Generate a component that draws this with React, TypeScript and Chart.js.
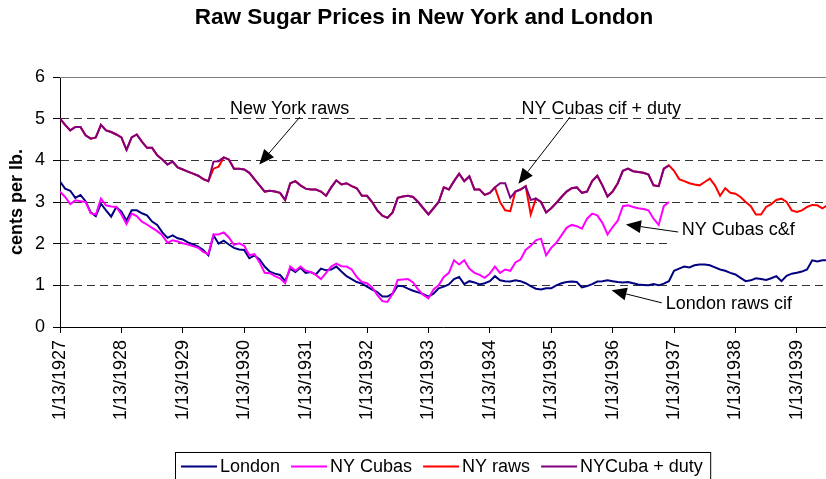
import React, { useEffect, useRef } from "react";
import { Chart, registerables } from "chart.js";

Chart.register(...registerables);

// Monthly readings, month 0 = 1/13/1927
const tickLabels = [
  "1/13/1927", "1/13/1928", "1/13/1929", "1/13/1930", "1/13/1931", "1/13/1932", "1/13/1933",
  "1/13/1934", "1/13/1935", "1/13/1936", "1/13/1937", "1/13/1938", "1/13/1939",
];

const seriesNames = ["London", "NY Cubas", "NY raws", "NYCuba + duty"];

const london = [
  3.49, 3.32, 3.27, 3.1, 3.17, 3.02, 2.75, 2.66, 2.96, 2.8, 2.65, 2.88,
  2.77, 2.55, 2.8, 2.8, 2.73, 2.68, 2.53, 2.45, 2.27, 2.14, 2.2, 2.13,
  2.1, 2.03, 1.98, 1.93, 1.85, 1.72, 2.2, 2.0, 2.07, 1.98, 1.9, 1.86,
  1.85, 1.65, 1.72, 1.62, 1.45, 1.33, 1.28, 1.25, 1.1, 1.4, 1.32, 1.42,
  1.3, 1.32, 1.26, 1.4, 1.36, 1.38, 1.45, 1.33, 1.22, 1.15, 1.08, 1.04,
  0.97, 0.9, 0.84, 0.73, 0.73, 0.8, 0.99, 0.98, 0.92, 0.87, 0.83, 0.79,
  0.73, 0.8, 0.93, 0.97, 1.02, 1.15, 1.2, 1.03, 1.1, 1.07, 1.02, 1.05,
  1.1, 1.22, 1.12, 1.1, 1.09, 1.12, 1.1, 1.05, 0.98, 0.92, 0.9, 0.93,
  0.93, 1.0, 1.05, 1.08, 1.09, 1.08, 0.95, 0.98, 1.03, 1.09, 1.1, 1.12,
  1.1, 1.08, 1.07, 1.08, 1.05, 1.02, 1.01, 1.0, 1.03, 1.0, 1.04, 1.1,
  1.35, 1.4, 1.45, 1.43, 1.48, 1.5, 1.5, 1.48, 1.43, 1.38, 1.35, 1.3,
  1.26, 1.18, 1.1, 1.12, 1.17, 1.15, 1.13, 1.17, 1.22, 1.1, 1.23, 1.28,
  1.3, 1.33, 1.38, 1.6, 1.57, 1.6, 1.6,
];

const nyCubas = [
  3.25, 3.12, 2.95, 3.04, 3.02, 3.0, 2.73, 2.7, 3.08, 2.92, 2.89, 2.88,
  2.7, 2.47, 2.72, 2.66, 2.53, 2.46, 2.38, 2.3, 2.2, 2.02, 2.08, 2.05,
  2.01, 1.98, 1.94, 1.9, 1.8, 1.75, 2.22, 2.22, 2.27, 2.15, 1.97, 2.01,
  1.95, 1.72, 1.75, 1.55, 1.3, 1.29, 1.22, 1.17, 1.05, 1.45, 1.35, 1.45,
  1.35, 1.32, 1.25, 1.15, 1.3, 1.45, 1.52, 1.46, 1.45, 1.38, 1.2, 1.08,
  1.05, 0.95, 0.77, 0.62, 0.6, 0.8, 1.13, 1.14, 1.15, 1.07, 0.9, 0.77,
  0.69, 0.9, 1.0, 1.2, 1.3, 1.6, 1.5, 1.6, 1.4, 1.3, 1.25, 1.18,
  1.28, 1.45, 1.3, 1.38, 1.35, 1.55, 1.62, 1.85, 1.95, 2.08, 2.12, 1.72,
  1.9, 2.02, 2.2, 2.38, 2.45, 2.42, 2.36, 2.6, 2.72, 2.68, 2.5, 2.22,
  2.4, 2.55, 2.9, 2.92, 2.88, 2.85, 2.83, 2.8, 2.6, 2.45, 2.9, 3.0,
];

const nyRaws = [
  5.0, 4.85, 4.72, 4.8, 4.8, 4.6, 4.52, 4.55, 4.85, 4.72, 4.68, 4.62,
  4.55, 4.25, 4.55, 4.62, 4.45, 4.3, 4.3, 4.12, 4.02, 3.9, 3.97, 3.83,
  3.78, 3.73, 3.68, 3.63, 3.55, 3.5, 3.8, 3.85, 4.07, 4.02, 3.8, 3.8,
  3.78, 3.7, 3.55, 3.4, 3.25, 3.27, 3.25, 3.22, 3.05, 3.45, 3.5, 3.4,
  3.32, 3.3, 3.3, 3.25, 3.15, 3.35, 3.52, 3.42, 3.45, 3.38, 3.33, 3.15,
  3.15, 3.0, 2.8, 2.67, 2.62, 2.75, 3.1, 3.13, 3.15, 3.12, 3.0, 2.85,
  2.7, 2.85, 3.0, 3.35, 3.3, 3.5, 3.68, 3.5, 3.62, 3.3, 3.3, 3.17,
  3.22, 3.35, 3.0, 2.8, 2.78, 3.25, 3.3, 3.38, 2.7, 3.08, 3.0, 2.75,
  2.85, 2.98, 3.12, 3.25, 3.33, 3.35, 3.22, 3.25, 3.5, 3.63, 3.4, 3.13,
  3.25, 3.45, 3.75, 3.8, 3.74, 3.72, 3.7, 3.66, 3.4, 3.38, 3.8, 3.88,
  3.75, 3.55, 3.5, 3.45, 3.42, 3.4, 3.48, 3.56, 3.4, 3.15, 3.33, 3.22,
  3.2, 3.12, 3.0, 2.9, 2.7, 2.7, 2.88, 2.95, 3.05, 3.08, 3.0, 2.8,
  2.76, 2.8, 2.88, 2.93, 2.92, 2.85, 2.92,
];

const nyCubaDuty = [
  5.0, 4.85, 4.72, 4.8, 4.8, 4.6, 4.52, 4.55, 4.85, 4.72, 4.68, 4.62,
  4.55, 4.25, 4.55, 4.62, 4.45, 4.3, 4.3, 4.12, 4.02, 3.9, 3.97, 3.83,
  3.78, 3.73, 3.68, 3.63, 3.55, 3.5, 3.97, 3.98, 4.07, 4.02, 3.8, 3.8,
  3.78, 3.7, 3.55, 3.4, 3.25, 3.27, 3.25, 3.22, 3.05, 3.45, 3.5, 3.4,
  3.32, 3.3, 3.3, 3.25, 3.15, 3.35, 3.52, 3.42, 3.45, 3.38, 3.33, 3.15,
  3.15, 3.0, 2.8, 2.67, 2.62, 2.75, 3.1, 3.13, 3.15, 3.12, 3.0, 2.85,
  2.7, 2.85, 3.0, 3.35, 3.3, 3.5, 3.68, 3.5, 3.62, 3.3, 3.3, 3.17,
  3.22, 3.35, 3.45, 3.45, 3.1, 3.25, 3.3, 3.38, 3.05, 3.08, 3.0, 2.75,
  2.85, 2.98, 3.12, 3.25, 3.33, 3.35, 3.22, 3.25, 3.5, 3.63, 3.4, 3.13,
  3.25, 3.45, 3.75, 3.8, 3.74, 3.72, 3.7, 3.66, 3.4, 3.38, 3.8, 3.88,
];

const seriesColors = ["#000080", "#FF00FF", "#FF0000", "#800080"];

// Callouts in data units: [month, cents]
const callouts = [
  { text: "New York raws", at: [33.2, 5.24], from: [46.9, 5.04], to: [38.95, 3.9] },
  { text: "NY Cubas cif + duty", at: [90.2, 5.24], from: [99.7, 5.04], to: [89.6, 3.44] },
  { text: "NY Cubas c&f", at: [121.5, 2.32], from: [120.8, 2.28], to: [110.6, 2.46] },
  { text: "London raws cif", at: [118.4, 0.56], from: [117.6, 0.58], to: [107.8, 0.88] },
];

const TITLE = "Raw Sugar Prices in New York and London";
const FONT = "'Liberation Sans', Arial, Helvetica, sans-serif";

export default function App() {
  const ref = useRef<HTMLCanvasElement>(null);

  useEffect(() => {
    const canvas = ref.current;
    if (!canvas) return;
    const toPts = (arr: number[]) => arr.map((y, i) => ({ x: i, y }));
    const all = [london, nyCubas, nyRaws, nyCubaDuty];
    const datasets = all.map((arr, i) => ({
      label: seriesNames[i],
      data: toPts(arr),
      borderColor: seriesColors[i],
      backgroundColor: seriesColors[i],
      borderWidth: 2,
      pointRadius: 0,
      tension: 0,
      fill: false,
      order: 4 - i,
    }));

    const drawArrow = (ctx: CanvasRenderingContext2D, x1: number, y1: number, x2: number, y2: number) => {
      const ang = Math.atan2(y2 - y1, x2 - x1);
      const len = 15;
      const hw = 6.5;
      const bx = x2 - len * Math.cos(ang);
      const by = y2 - len * Math.sin(ang);
      ctx.beginPath();
      ctx.moveTo(x1, y1);
      ctx.lineTo(bx, by);
      ctx.strokeStyle = "#000";
      ctx.lineWidth = 1;
      ctx.stroke();
      ctx.beginPath();
      ctx.moveTo(x2, y2);
      ctx.lineTo(bx + hw * Math.sin(ang), by - hw * Math.cos(ang));
      ctx.lineTo(bx - hw * Math.sin(ang), by + hw * Math.cos(ang));
      ctx.closePath();
      ctx.fillStyle = "#000";
      ctx.fill();
    };

    const decor = {
      id: "decor",
      beforeDatasetsDraw(chart: any) {
        const { ctx, chartArea, scales } = chart;
        ctx.save();
        const ty = Math.round(chartArea.top) + 0.5;
        ctx.strokeStyle = "#808080";
        ctx.lineWidth = 1;
        ctx.beginPath();
        ctx.moveTo(chartArea.left, ty);
        ctx.lineTo(chartArea.right, ty);
        ctx.stroke();
        const x0 = scales.x.getPixelForValue(119.6);
        const yTop = scales.y.getPixelForValue(2.55);
        const yBot = scales.y.getPixelForValue(1.84);
        ctx.fillStyle = "#fff";
        ctx.fillRect(x0, yTop, chartArea.right - x0, yBot - yTop);
        ctx.restore();
      },
      afterDatasetsDraw(chart: any) {
        const { ctx, scales } = chart;
        ctx.save();
        ctx.font = `18px ${FONT}`;
        ctx.textBaseline = "middle";
        ctx.textAlign = "left";
        ctx.fillStyle = "#000";
        for (const c of callouts) {
          const tx = scales.x.getPixelForValue(c.at[0]);
          const ty = scales.y.getPixelForValue(c.at[1]);
          ctx.fillText(c.text, tx, ty);
          drawArrow(
            ctx,
            scales.x.getPixelForValue(c.from[0]),
            scales.y.getPixelForValue(c.from[1]),
            scales.x.getPixelForValue(c.to[0]),
            scales.y.getPixelForValue(c.to[1])
          );
        }
        ctx.restore();
      },
      afterDraw(chart: any) {
        const { ctx } = chart;
        ctx.save();
        ctx.font = `bold 22.5px ${FONT}`;
        ctx.fillStyle = "#000";
        ctx.textAlign = "center";
        ctx.textBaseline = "middle";
        ctx.fillText(TITLE, 424, 18);
        ctx.font = `18px ${FONT}`;
        ctx.textAlign = "left";
        const ly = 466.5;
        let x = 181;
        chart.data.datasets.forEach((ds: any) => {
          ctx.strokeStyle = ds.borderColor;
          ctx.lineWidth = 2;
          ctx.beginPath();
          ctx.moveTo(x, ly);
          ctx.lineTo(x + 36, ly);
          ctx.stroke();
          ctx.fillStyle = "#000";
          ctx.fillText(ds.label, x + 39, ly + 1);
          x = x + 39 + ctx.measureText(ds.label).width + 11;
        });
        ctx.strokeStyle = "#000";
        ctx.lineWidth = 1;
        ctx.strokeRect(175.5, 452.5, x - 11 + 8 - 175.5, 40);
        ctx.restore();
      },
    };

    const chart = new Chart(canvas, {
      type: "line",
      data: { datasets },
      plugins: [decor],
      options: {
        animation: false,
        responsive: false,
        layout: { padding: { top: 77, right: 0, bottom: 52, left: 0 } },
        plugins: {
          legend: { display: false },
          title: { display: false },
          tooltip: { enabled: false },
        },
        scales: {
          x: {
            type: "linear",
            min: 0,
            max: 149.7,
            afterFit: (s: any) => {
              s.height = 100;
            },
            border: { color: "#000", width: 1 },
            grid: {
              drawOnChartArea: false,
              drawTicks: true,
              tickLength: 6,
              tickColor: "#000",
            },
            ticks: {
              stepSize: 12,
              includeBounds: false,
              autoSkip: false,
              minRotation: 90,
              maxRotation: 90,
              padding: 7,
              color: "#000",
              font: { family: FONT, size: 18 },
              callback: (v: any) => {
                const idx = Math.round(Number(v) / 12);
                return Number(v) % 12 === 0 && tickLabels[idx] ? tickLabels[idx] : "";
              },
            },
          },
          y: {
            min: 0,
            max: 6,
            afterFit: (s: any) => {
              s.width = 60;
            },
            border: { color: "#000", width: 1, dash: [8, 5] },
            grid: {
              color: (c: any) =>
                c.tick && (c.tick.value === 0 || c.tick.value === 6) ? "rgba(0,0,0,0)" : "#333",
              lineWidth: 1,
              drawTicks: true,
              tickLength: 7,
              tickColor: "#000",
              tickBorderDash: [],
            },
            ticks: {
              stepSize: 1,
              padding: 8,
              color: "#000",
              font: { family: FONT, size: 18 },
            },
            title: {
              display: true,
              text: "cents per lb.",
              color: "#000",
              font: { family: FONT, size: 18, weight: "bold" },
              padding: { top: 6, bottom: 0 },
            },
          },
        },
      },
    });
    return () => chart.destroy();
  }, []);

  return (
    <div style={{ position: "absolute", left: 0, top: 0, width: 826, height: 479, background: "#fff" }}>
      <canvas ref={ref} width={826} height={479} style={{ display: "block", width: 826, height: 479 }} />
    </div>
  );
}
